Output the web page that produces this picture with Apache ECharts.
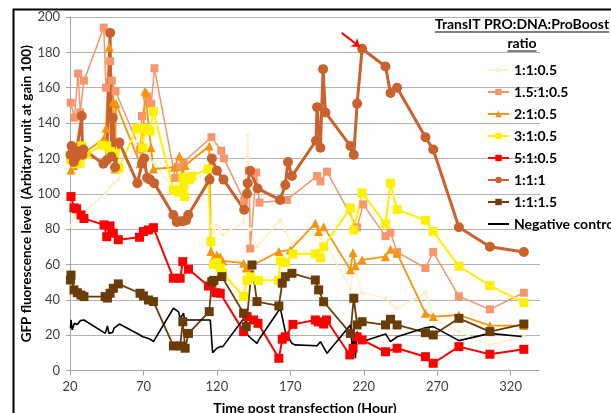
<!DOCTYPE html>
<html>
<head>
<meta charset="utf-8">
<script src="https://cdn.jsdelivr.net/npm/echarts@6/dist/echarts.min.js"></script>
<style>
  html, body { margin: 0; padding: 0; background: #fff; width: 611px; height: 413px; overflow: hidden; }
  #chart { position: absolute; left: 0; top: 0; width: 611px; height: 413px; }
</style>
</head>
<body>
<div id="chart"></div>
<script>
// Axis ticks (hours post transfection)
const xTicks = [20, 70, 120, 170, 220, 270, 320];

// Series names (TransIT PRO : DNA : ProBoost ratio)
const seriesNames = ['1:1:0.5', '1.5:1:0.5', '2:1:0.5', '3:1:0.5', '5:1:0.5', '1:1:1', '1:1:1.5', 'Negative control'];

// 1:1:0.5
const tA = [20.7,23,27.5,30,44,47.3,49.5,53,65.5,67.7,70,73.4,76.8,90.4,93.8,97,100.7,114.8,116.6,118,120,122.3,124,138.2,141,142.7,147.3,162.2,163.2,166.6,171.1,187,190.5,193.9,210.9,213.2,218.9,234.8,238.2,242.7,262,267.3,284.8,305.9,329];
const vA = [82,88,89,90,100,104,106,108,130,143,128,125,118,103,108,98,104,115,82,78,82,80,77,84,133,80,70,84,85.5,78.6,72,78,75,72,46,58,44,41,38,35,44,30,22,14.4,19.1];

// 1.5:1:0.5
const tB = [20.5,23,25.5,27,29.5,43,44.5,47.3,48.5,51,67.7,69,72.5,75.3,77.5,91.6,94,97.3,116.3,123,124.8,138.6,142,142.7,146.8,149,167.7,188.2,190.5,195,215.5,219.6,234.8,238.2,242.7,262,267.3,284.8,305.9,329];
const vB = [151.5,143,168,146,164,194,160,175,164,158,125,144,155,151,171,109,115,118,132,124.4,120,96,113,69,112,95,96.5,110,107,112.5,81,94,76,78,67,58,67,42,34.6,44];

// 2:1:0.5
const tC = [20.7,22.5,25.2,28.6,43.2,44.5,46.8,49.5,50.7,51.3,67.7,69.5,71.1,72,75.2,76.8,91.1,94.5,96.8,98.4,114.8,115.9,117.7,120,122.3,124,138.2,140,142.7,162.2,170,187,189.3,192.7,210.9,212.7,214.3,218.9,234.8,238.2,242.7,262,267.3,284.8,305.9,329];
const vC = [113.5,116,117.6,122.4,131.4,137,183,152,114,151,117,127,158,157,126,114,115,121.4,111.6,116,127,67.3,63.5,65.4,64.4,62,60.7,58,58.8,67.3,68.2,83.3,78.6,81.4,57,66.7,59.2,62.6,64.4,68.6,66.3,32.4,30.5,31.4,25.4,25.4];

// 3:1:0.5
const tD = [20.3,22,24,26.8,28,30.9,41.6,45,47.3,50.7,53.2,65.5,67.7,69.5,71,74.5,76.8,90.4,91.1,93.8,96.8,97.3,98,101.3,103,113.9,115.9,117.7,120,122.3,124,138.2,140.5,142.7,148.4,162,163.2,166.6,171.8,187,190.5,192.7,210.9,213.2,218.9,234.8,238.2,242.7,262,267.3,284.8,305.9,329];
const vD = [119.5,122,117,117.3,127,122,127.5,127,124,123,114.5,137,136.5,126,137,135.5,146.5,102.2,102,101,109.4,104,98.4,108.2,110,114,73,60,61,58,55,42,51,53,51,51,62,61,66,66,63.7,70,92,79.5,100.5,83,106,91,85,78.6,59,48,38.4];

// 5:1:0.5
const tE = [20.7,22.7,24.5,27.5,29.5,43.2,45,47.3,49.5,52.9,67.3,70,73.4,76.8,90.4,95,96.8,100.7,114.3,116.6,119.5,122.3,138.2,140.5,145,148,162.2,164.5,166.6,171.8,187,189,192.7,194.6,210.5,212.7,215.5,218.9,234.8,242.7,262,267.3,284.8,305.9,329];
const vE = [98.4,92,91.5,88,86,82.4,75.7,81.8,77.7,74,75.4,78.6,79.5,80.8,52.2,52.2,61.6,57.3,47.8,49.4,44,43.7,22,30.5,28.6,26.7,6.9,17.7,19.1,26.1,28.6,27.5,26.3,28.6,8.8,12.6,19,17.3,10.6,12.6,7.8,4.1,13.5,9.2,12];

// 1:1:1
const tF = [20.3,21.1,22.5,23.4,24.5,28,28.5,29.1,42.7,45,47.3,48.2,49.1,50.7,53.6,65.9,69,70.5,72.5,74.5,77.3,90.4,92.7,95,97,99.1,100.5,115,116.6,120,124.5,138.6,140.5,141,142.7,147.7,163,166.6,168.4,171.1,187.5,188.2,190.5,192.3,193.9,211,213.2,215.5,218.9,234.8,238.2,242.7,262,267.3,284.8,305.9,329];
const vF = [122,127,118,120,124,144,122,125,117,119,191,121,143,115,129,106,117,120,109,108,106,88,84,84.5,84.5,85,88,108,120,113,108,91,100,106,113,103,96.5,105,118,110,130,149,126,170.5,146,127,122,151,182,172,157,160,132,125,81,70,67];

// 1:1:1.5
const tG = [20.3,20.7,22.7,25,27.5,29.5,43.9,45.5,47.3,49.5,52.9,67.7,70,73.4,76.8,90.4,95,96.8,98.4,100.7,114.8,116.6,118,123.4,138.2,140,143.9,147.3,162.2,164.5,166.6,171.1,187,189.3,192.7,210.9,213.2,215.5,218.9,234.8,238.2,242.7,262,267.3,284.8,305.9,329];
const vG = [51.2,54,45.6,44,42.7,41.8,41.8,41,43.7,46.5,49,43.7,42.2,39.9,39,13.9,13.9,27.6,12.6,21,33.3,50.3,51,53.1,32.4,24.8,59.7,39,36.5,49.4,53.1,55,51.2,45.6,38.9,21,40.9,25.8,27.6,25.8,29,25.8,21.4,20.1,29.5,22,26.3];

// Negative control
const tH = [20.3,20.7,21.5,23,25,27,29.5,44,45.5,46.5,49,50,53.6,67.7,69.5,72,74.5,76.8,90.4,93.8,95,97.3,98,108,115.5,116.6,117.1,120,122.3,124,139.3,140.9,143.9,147.3,149,163.2,166.6,171.1,173,188.2,190.5,195,210.9,212.7,213.2,214.3,215.5,218.9,234.8,238.2,242.7,262,267.3,284.8,305.9,329];
const vH = [23.9,28.6,23,26.7,26,28.2,28.6,21,25.2,21,21.5,24,26.3,20.1,19.1,18.5,17.7,16.3,35.2,33.3,29.5,32.4,28.6,28.6,28.6,27.6,10.1,12.6,13.5,13.5,30.5,20.1,17.7,15.4,18,35.2,22,15.4,14.5,14,16.3,9.7,25.8,7.8,22,7,22,16.3,20.7,16.3,19.1,24.2,24.8,16.9,21,19.1];

// Arrow pointing at the 1:1:1 maximum
const arrowFrom = [205, 191];
const arrowTo = [217.5, 183];

const FONT = 'Lato';
const zip = (t, v) => t.map((x, i) => [x, v[i]]);

function lineSeries(name, t, v, color, symbol, size, width) {
  return {
    name: name,
    type: 'line',
    data: zip(t, v),
    symbol: symbol,
    symbolSize: size,
    showSymbol: symbol !== 'none',
    lineStyle: { color: color, width: width },
    itemStyle: { color: color },
    emphasis: { disabled: true },
    z: 2
  };
}

const series = [
  lineSeries(seriesNames[0], tA, vA, '#FDF0C6', 'diamond', 5, 1.5),
  lineSeries(seriesNames[1], tB, vB, '#F7956B', 'rect', 8, 1.5),
  lineSeries(seriesNames[2], tC, vC, '#F5940F', 'triangle', 9, 1.8),
  lineSeries(seriesNames[3], tD, vD, '#FFF000', 'rect', 9, 2),
  lineSeries(seriesNames[4], tE, vE, '#FF0000', 'rect', 9, 2),
  lineSeries(seriesNames[5], tF, vF, '#C9622D', 'circle', 10, 3),
  lineSeries(seriesNames[6], tG, vG, '#6A3C08', 'rect', 9, 1.8),
  lineSeries(seriesNames[7], tH, vH, '#000000', 'none', 0, 1.6)
];

series[5].markLine = {
  silent: true,
  symbol: ['none', 'arrow'],
  symbolSize: 8,
  label: { show: false },
  lineStyle: { color: '#FF0000', width: 2, type: 'solid' },
  data: [[{ coord: arrowFrom }, { coord: arrowTo }]]
};

// Legend entries; the control entry shows the line only
const legendData = seriesNames.map(n => n === 'Negative control'
  ? { name: n, itemStyle: { opacity: 0 }, lineStyle: { color: '#000', width: 2, opacity: 1 } }
  : { name: n });

// Underlines for the legend heading
function textWidth(str, font) {
  const c = document.createElement('canvas').getContext('2d');
  c.font = font;
  return c.measureText(str).width;
}
const legendTitle1 = 'TransIT PRO:DNA:ProBoost';
const legendTitle2 = 'ratio';
const titleFont = 'bold 14px ' + FONT;
const w1 = textWidth(legendTitle1, titleFont);
const w2 = textWidth(legendTitle2, titleFont);
const titleCx = 522;

const chart = echarts.init(document.getElementById('chart'), null, { renderer: 'canvas', width: 611, height: 413 });
chart.setOption({
  animation: false,
  backgroundColor: '#ffffff',
  grid: { left: 70, right: 71, top: 17, bottom: 42.5, containLabel: false, outerBoundsMode: 'none' },
  xAxis: {
    type: 'value',
    min: 20, max: 340, interval: 50,
    name: 'Time post transfection (Hour)',
    nameLocation: 'middle',
    nameGap: 31,
    nameTextStyle: { fontFamily: FONT, fontWeight: 'bold', fontSize: 14, color: '#000' },
    axisLine: { show: true, lineStyle: { color: '#A6A6A6', width: 1 } },
    axisTick: { show: true, length: 5, lineStyle: { color: '#A6A6A6' }, customValues: xTicks },
    axisLabel: { fontFamily: FONT, fontSize: 13, color: '#404040', margin: 10, customValues: xTicks },
    splitLine: { show: false }
  },
  yAxis: {
    type: 'value',
    min: 0, max: 200, interval: 20,
    name: 'GFP fluorescence level  (Arbitary unit at gain 100)',
    nameLocation: 'middle',
    nameGap: 36,
    nameMoveOverlap: false,
    nameRotate: 90,
    nameTextStyle: { fontFamily: FONT, fontWeight: 'bold', fontSize: 13.5, color: '#000' },
    axisLine: { show: true, lineStyle: { color: '#A6A6A6', width: 1 } },
    axisTick: { show: true, length: 4, lineStyle: { color: '#A6A6A6' } },
    axisLabel: { fontFamily: FONT, fontSize: 13, color: '#404040', margin: 10 },
    splitLine: { show: true, lineStyle: { color: '#B3B3B3', width: 1 } }
  },
  legend: {
    orient: 'vertical',
    left: 482,
    top: 58,
    itemWidth: 21,
    itemHeight: 8,
    itemGap: 8,
    selectedMode: false,
    textStyle: { fontFamily: FONT, fontWeight: 'bold', fontSize: 14, color: '#000' },
    data: legendData
  },
  graphic: [
    {
      type: 'rect', left: 11, top: 7, silent: true, z: 100,
      shape: { x: 0, y: 0, width: 640, height: 440 },
      style: { fill: 'none', stroke: '#000', lineWidth: 2 }
    },
    {
      type: 'text', silent: true, z: 100,
      x: titleCx, y: 24,
      style: { text: legendTitle1, font: titleFont, fill: '#000', align: 'center', verticalAlign: 'middle' }
    },
    {
      type: 'line', silent: true, z: 100,
      shape: { x1: titleCx - w1 / 2, y1: 32, x2: titleCx + w1 / 2, y2: 32 },
      style: { stroke: '#000', lineWidth: 1 }
    },
    {
      type: 'text', silent: true, z: 100,
      x: titleCx, y: 43,
      style: { text: legendTitle2, font: titleFont, fill: '#000', align: 'center', verticalAlign: 'middle' }
    },
    {
      type: 'line', silent: true, z: 100,
      shape: { x1: titleCx - w2 / 2, y1: 51, x2: titleCx + w2 / 2, y2: 51 },
      style: { stroke: '#000', lineWidth: 1 }
    }
  ],
  series: series
});
</script>
</body>
</html>
